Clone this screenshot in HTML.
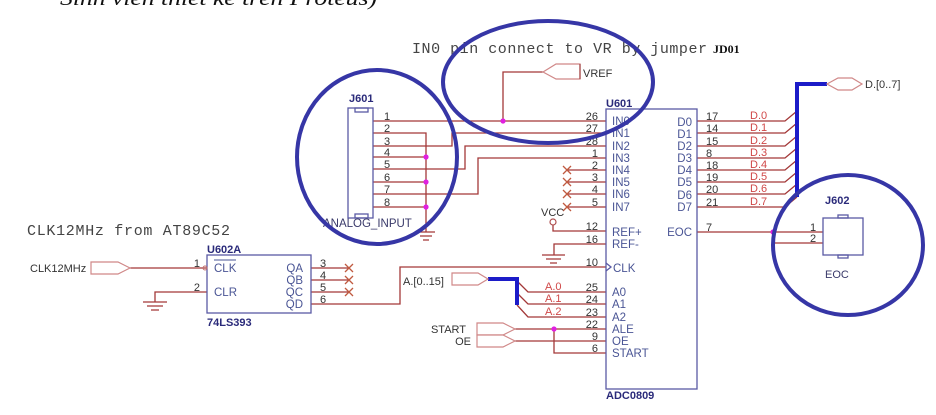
<!DOCTYPE html>
<html><head><meta charset="utf-8"><style>
html,body{margin:0;padding:0;background:#fff;}
svg{display:block;}
</style></head><body>
<svg width="936" height="415" viewBox="0 0 936 415" xmlns="http://www.w3.org/2000/svg" font-family="'Liberation Sans', sans-serif">
<rect width="936" height="415" fill="#fff"/>
<!-- top italic caption (clipped) -->
<text x="60" y="5" font-family="'Liberation Serif', serif" font-style="italic" font-size="21" fill="#111" textLength="317" lengthAdjust="spacingAndGlyphs">Sinh viên thiết kế trên Proteus)</text>

<!-- mono annotations -->
<text x="412" y="53" font-family="'Liberation Mono', monospace" font-size="15" fill="#444" textLength="295" lengthAdjust="spacing">IN0 pin connect to VR by jumper</text>
<text x="713" y="53" font-family="'Liberation Serif', serif" font-weight="bold" font-size="12" fill="#111">JD01</text>
<text x="27" y="235" font-family="'Liberation Mono', monospace" font-size="15" fill="#444" textLength="203" lengthAdjust="spacing">CLK12MHz from AT89C52</text>

<!-- wires -->
<g stroke="#a33838" stroke-width="1.3" fill="none">
  <!-- J601 to ADC -->
  <path d="M373,121 H606"/>
  <path d="M373,133 H426 V232"/>
  <path d="M373,146 H452 V133 H606"/>
  <path d="M373,157 H426"/>
  <path d="M373,169 H465 V146 H606"/>
  <path d="M373,182 H426"/>
  <path d="M373,194 H478 V158 H606"/>
  <path d="M373,207 H426"/>
  <!-- VREF -->
  <path d="M503,121 V72 H543"/>
  <!-- IN4..IN7 NC -->
  <path d="M567,170 H606 M567,182 H606 M567,194 H606 M567,207 H606"/>
  <!-- VCC / REF -->
  <path d="M553,225 V231 H606"/>
  <path d="M606,244 H554 V255"/>
  <!-- CLK from QD -->
  <path d="M311,304 H400 V267 H606"/>
  <!-- address -->
  <path d="M517,281 L528,292 H606"/>
  <path d="M517,293 L528,304 H606"/>
  <path d="M517,305 L528,317 H606"/>
  <!-- ALE/OE/START -->
  <path d="M515,329 H606"/>
  <path d="M515,341 H606"/>
  <path d="M554,329 V353 H606"/>
  <!-- D outputs -->
  <path d="M697,121 H785 L797,111"/>
  <path d="M697,133 H785 L797,123"/>
  <path d="M697,146 H785 L797,136"/>
  <path d="M697,158 H785 L797,148"/>
  <path d="M697,170 H785 L797,160"/>
  <path d="M697,182 H785 L797,172"/>
  <path d="M697,194 H785 L797,184"/>
  <path d="M697,207 H785 L797,197"/>
  <!-- EOC -->
  <path d="M697,232 H823"/>
  <path d="M773,232 V243 H823"/>
  <!-- U602A -->
  <path d="M130,268 H207"/>
  <path d="M155,302 V292 H207"/>
  <path d="M311,268 H349 M311,280 H349 M311,292 H349"/>
</g>

<!-- grounds -->
<g stroke="#a33838" stroke-width="1.3">
  <path d="M417,232 H435 M420,236 H432 M423,240 H429"/>
  <path d="M542,255 H565 M546,259 H561 M550,263 H557"/>
  <path d="M143,302 H167 M147,306 H163 M151,310 H159"/>
</g>
<!-- VCC circle -->
<circle cx="553" cy="222" r="3" fill="none" stroke="#b05050" stroke-width="1.2"/>

<!-- X marks -->
<g stroke="#c05a40" stroke-width="1.3">
  <path d="M563,166 l8,8 M571,166 l-8,8"/>
  <path d="M563,178 l8,8 M571,178 l-8,8"/>
  <path d="M563,190 l8,8 M571,190 l-8,8"/>
  <path d="M563,203 l8,8 M571,203 l-8,8"/>
  <path d="M345,264 l8,8 M353,264 l-8,8"/>
  <path d="M345,276 l8,8 M353,276 l-8,8"/>
  <path d="M345,288 l8,8 M353,288 l-8,8"/>
</g>

<!-- buses -->
<g stroke="#1c1cc8" stroke-width="4" fill="none" stroke-linejoin="miter">
  <path d="M827,84 H797 V197"/>
  <path d="M488,279 H517 V305"/>
</g>

<!-- ports -->
<g fill="#fff" stroke="#d08888" stroke-width="1.2">
  <polygon points="543,72 556,64 580,64 580,79 556,79"/>
  <polygon points="827,84 838,78 852,78 862,84 852,90 838,90"/>
  <polygon points="452,273 478,273 488,279 478,285 452,285"/>
  <polygon points="477,323 503,323 515,329 503,335 477,335"/>
  <polygon points="477,335 503,335 515,341 503,347 477,347"/>
  <polygon points="91,262 118,262 130,268 118,274 91,274"/>
</g>
<line x1="580" y1="64" x2="580" y2="79" stroke="#a04040" stroke-width="1.2"/>

<!-- junction dots -->
<g fill="#e020e0">
  <circle cx="503" cy="121" r="2.6"/>
  <circle cx="426" cy="157" r="2.6"/>
  <circle cx="426" cy="182" r="2.6"/>
  <circle cx="426" cy="207" r="2.6"/>
  <circle cx="554" cy="329" r="2.6"/>
  <circle cx="773" cy="232" r="2.6"/>
</g>

<!-- component boxes -->
<g fill="none" stroke="#5a5aa5" stroke-width="1.3">
  <rect x="348" y="108" width="25" height="110"/>
  <rect x="355" y="108" width="13" height="4"/>
  <rect x="355" y="214" width="13" height="4"/>
  <rect x="606" y="109" width="91" height="280"/>
  <rect x="207" y="255" width="104" height="58"/>
  <rect x="823" y="218" width="40" height="37"/>
  <rect x="838" y="215" width="10" height="3"/>
  <rect x="838" y="255" width="10" height="3"/>
  <path d="M606,263 L611,267 L606,271"/>
</g>
<circle cx="205" cy="268" r="2" fill="none" stroke="#c07070" stroke-width="1"/>

<!-- component labels -->
<g fill="#2a2a7a" font-size="11" font-weight="bold">
  <text x="349" y="102">J601</text>
  <text x="606" y="107">U601</text>
  <text x="207" y="253">U602A</text>
  <text x="207" y="326">74LS393</text>
  <text x="606" y="399">ADC0809</text>
  <text x="825" y="204">J602</text>
</g>
<g fill="#3a3a6a" font-size="11.5">
  <text x="323" y="227">ANALOG_INPUT</text>
  <text x="825" y="278" font-size="11">EOC</text>
</g>

<!-- U601 pin names -->
<g fill="#4a5595" font-size="11.5">
  <text x="612" y="125">IN0</text>
  <text x="612" y="137">IN1</text>
  <text x="612" y="150">IN2</text>
  <text x="612" y="162">IN3</text>
  <text x="612" y="174">IN4</text>
  <text x="612" y="186">IN5</text>
  <text x="612" y="198">IN6</text>
  <text x="612" y="211">IN7</text>
  <text x="612" y="236">REF+</text>
  <text x="612" y="248">REF-</text>
  <text x="613" y="272">CLK</text>
  <text x="612" y="296">A0</text>
  <text x="612" y="308">A1</text>
  <text x="612" y="321">A2</text>
  <text x="612" y="333">ALE</text>
  <text x="612" y="345">OE</text>
  <text x="612" y="357">START</text>
</g>
<g fill="#4a5595" font-size="11.5" text-anchor="end">
  <text x="692" y="126">D0</text>
  <text x="692" y="138">D1</text>
  <text x="692" y="150">D2</text>
  <text x="692" y="162">D3</text>
  <text x="692" y="174">D4</text>
  <text x="692" y="186">D5</text>
  <text x="692" y="199">D6</text>
  <text x="692" y="211">D7</text>
  <text x="692" y="236">EOC</text>
  <text x="303" y="272">QA</text>
  <text x="303" y="284">QB</text>
  <text x="303" y="296">QC</text>
  <text x="303" y="308">QD</text>
</g>
<g fill="#4a5595" font-size="11.5">
  <text x="214" y="272">CLK</text>
  <text x="214" y="296">CLR</text>
</g>
<line x1="214" y1="260" x2="236" y2="260" stroke="#4a5595" stroke-width="1"/>

<!-- pin numbers -->
<g fill="#333" font-size="11" text-anchor="end">
  <text x="598" y="120">26</text>
  <text x="598" y="132">27</text>
  <text x="598" y="145">28</text>
  <text x="598" y="157">1</text>
  <text x="598" y="169">2</text>
  <text x="598" y="181">3</text>
  <text x="598" y="193">4</text>
  <text x="598" y="206">5</text>
  <text x="598" y="230">12</text>
  <text x="598" y="243">16</text>
  <text x="598" y="266">10</text>
  <text x="598" y="291">25</text>
  <text x="598" y="303">24</text>
  <text x="598" y="316">23</text>
  <text x="598" y="328">22</text>
  <text x="598" y="340">9</text>
  <text x="598" y="352">6</text>
  <text x="200" y="267">1</text>
  <text x="200" y="291">2</text>
</g>
<g fill="#333" font-size="11">
  <text x="706" y="120">17</text>
  <text x="706" y="132">14</text>
  <text x="706" y="145">15</text>
  <text x="706" y="157">8</text>
  <text x="706" y="169">18</text>
  <text x="706" y="181">19</text>
  <text x="706" y="193">20</text>
  <text x="706" y="206">21</text>
  <text x="706" y="231">7</text>
  <text x="810" y="231">1</text>
  <text x="810" y="242">2</text>
  <text x="320" y="267">3</text>
  <text x="320" y="279">4</text>
  <text x="320" y="291">5</text>
  <text x="320" y="303">6</text>
  <text x="384" y="120">1</text>
  <text x="384" y="132">2</text>
  <text x="384" y="145">3</text>
  <text x="384" y="156">4</text>
  <text x="384" y="168">5</text>
  <text x="384" y="181">6</text>
  <text x="384" y="193">7</text>
  <text x="384" y="206">8</text>
</g>

<!-- net labels (red) -->
<g fill="#d04848" font-size="11">
  <text x="750" y="119">D.0</text>
  <text x="750" y="131">D.1</text>
  <text x="750" y="144">D.2</text>
  <text x="750" y="156">D.3</text>
  <text x="750" y="168">D.4</text>
  <text x="750" y="180">D.5</text>
  <text x="750" y="192">D.6</text>
  <text x="750" y="205">D.7</text>
  <text x="545" y="290">A.0</text>
  <text x="545" y="302">A.1</text>
  <text x="545" y="315">A.2</text>
</g>

<!-- port labels -->
<g fill="#333" font-size="11">
  <text x="583" y="77">VREF</text>
  <text x="865" y="88">D.[0..7]</text>
  <text x="403" y="285">A.[0..15]</text>
  <text x="466" y="333" text-anchor="end">START</text>
  <text x="471" y="345" text-anchor="end">OE</text>
  <text x="30" y="272">CLK12MHz</text>
  <text x="541" y="216">VCC</text>
</g>

<!-- blue hand-drawn circles -->
<g fill="none" stroke="#3636a6" stroke-width="4">
  <ellipse cx="377" cy="157" rx="80" ry="87"/>
  <ellipse cx="548" cy="82" rx="105" ry="61"/>
  <ellipse cx="848" cy="245" rx="75" ry="70"/>
</g>
</svg>
</body></html>
